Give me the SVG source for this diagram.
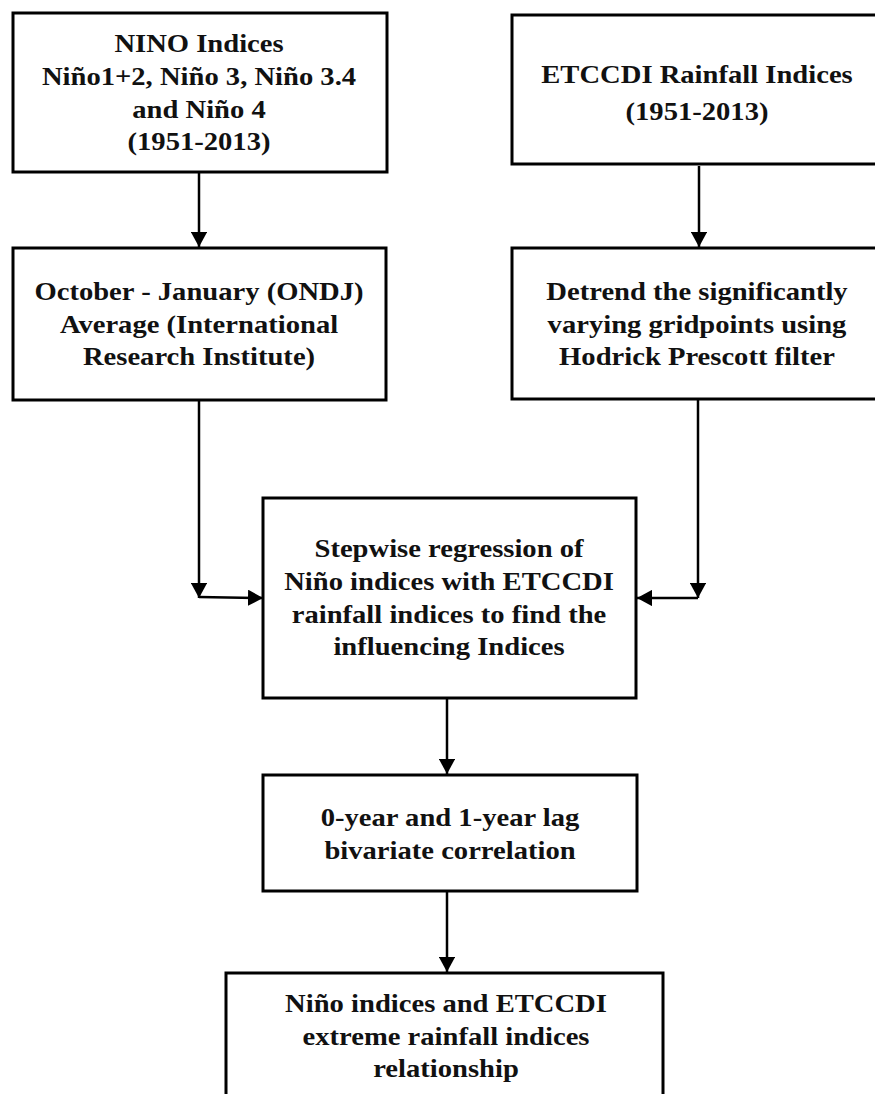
<svg xmlns="http://www.w3.org/2000/svg" width="875" height="1094" viewBox="0 0 875 1094">
<style>
.box{fill:#fff;stroke:#000;stroke-width:3}
.t{font-family:"Liberation Serif","Times New Roman",serif;font-weight:bold;font-size:26px;fill:#111;text-anchor:middle}
.c{fill:none;stroke:#000;stroke-width:2.5}
</style>
<defs>
<marker id="ah" viewBox="0 0 10 10" refX="10" refY="5" markerWidth="6" markerHeight="6.5" markerUnits="strokeWidth" orient="auto" preserveAspectRatio="none">
<path d="M0,0 L10,5 L0,10 Z" fill="#000"/>
</marker>
</defs>
<rect width="875" height="1094" fill="#fff"/>
<g id="connectors">
<path class="c" d="M199,172 V247" marker-end="url(#ah)"/>
<path class="c" d="M699,166 V247" marker-end="url(#ah)"/>
<path class="c" d="M199,400 V598" marker-end="url(#ah)"/>
<path class="c" d="M199,597 L263,598" marker-end="url(#ah)"/>
<path class="c" d="M698,399 V598" marker-end="url(#ah)"/>
<path class="c" d="M698,598 H637" marker-end="url(#ah)"/>
<path class="c" d="M447,698 V774" marker-end="url(#ah)"/>
<path class="c" d="M447,891 V972" marker-end="url(#ah)"/>
</g>
<g id="nino">
<rect class="box" x="13" y="13" width="374" height="159"/>
<text class="t" transform="translate(199,52) scale(1.1,1)">NINO Indices</text>
<text class="t" transform="translate(199,85) scale(1.1,1)">Niño1+2, Niño 3, Niño 3.4</text>
<text class="t" transform="translate(199,118) scale(1.1,1)">and Niño 4</text>
<text class="t" transform="translate(199,150) scale(1.1,1)">(1951-2013)</text>
</g>
<g id="etccdi">
<rect class="box" x="512" y="15" width="370" height="149"/>
<text class="t" transform="translate(697,83) scale(1.1,1)">ETCCDI Rainfall Indices</text>
<text class="t" transform="translate(697,120) scale(1.1,1)">(1951-2013)</text>
</g>
<g id="ondj">
<rect class="box" x="13" y="248" width="373" height="152"/>
<text class="t" transform="translate(199,300) scale(1.1,1)">October - January (ONDJ)</text>
<text class="t" transform="translate(199,333) scale(1.1,1)">Average (International</text>
<text class="t" transform="translate(199,365) scale(1.1,1)">Research Institute)</text>
</g>
<g id="detrend">
<rect class="box" x="512" y="248" width="370" height="151"/>
<text class="t" transform="translate(697,300) scale(1.1,1)">Detrend the significantly</text>
<text class="t" transform="translate(697,333) scale(1.1,1)">varying gridpoints using</text>
<text class="t" transform="translate(697,365) scale(1.1,1)">Hodrick Prescott filter</text>
</g>
<g id="stepwise">
<rect class="box" x="263" y="498" width="373" height="200"/>
<text class="t" transform="translate(449,557) scale(1.1,1)">Stepwise regression of</text>
<text class="t" transform="translate(449,590) scale(1.1,1)">Niño indices with ETCCDI</text>
<text class="t" transform="translate(449,623) scale(1.1,1)">rainfall indices to find the</text>
<text class="t" transform="translate(449,655) scale(1.1,1)">influencing Indices</text>
</g>
<g id="lag">
<rect class="box" x="263" y="775" width="374" height="116"/>
<text class="t" transform="translate(450,826) scale(1.1,1)">0-year and 1-year lag</text>
<text class="t" transform="translate(450,859) scale(1.1,1)">bivariate correlation</text>
</g>
<g id="relationship">
<rect class="box" x="226" y="973" width="437" height="140"/>
<text class="t" transform="translate(446,1012) scale(1.1,1)">Niño indices and ETCCDI</text>
<text class="t" transform="translate(446,1045) scale(1.1,1)">extreme rainfall indices</text>
<text class="t" transform="translate(446,1077) scale(1.1,1)">relationship</text>
</g>
</svg>
